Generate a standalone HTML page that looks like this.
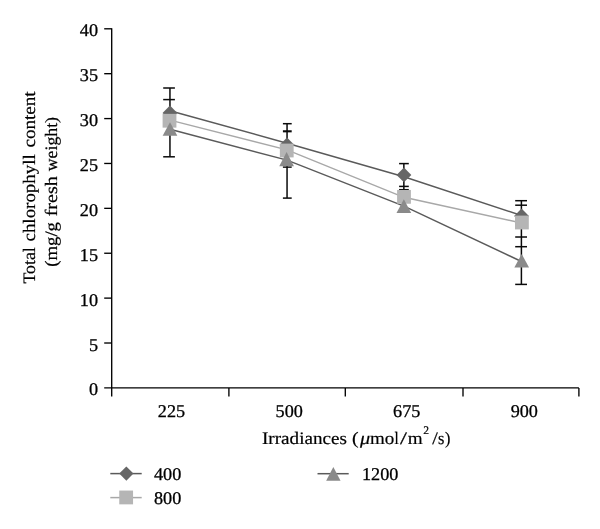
<!DOCTYPE html>
<html><head><meta charset="utf-8"><title>Chart</title>
<style>html,body{margin:0;padding:0;background:#fff}svg{display:block}text{text-rendering:geometricPrecision}</style></head>
<body>
<svg width="600" height="529" viewBox="0 0 600 529">
<rect width="600" height="529" fill="#fff"/>
<g stroke="#000" stroke-width="1.35" fill="none">
<path d="M111.7 28.150000000000002V396.59999999999997"/>
<path d="M104.2 387.9H578.9"/>
<path d="M104.2 343.01H111.7"/>
<path d="M104.2 298.12H111.7"/>
<path d="M104.2 253.24H111.7"/>
<path d="M104.2 208.35H111.7"/>
<path d="M104.2 163.46H111.7"/>
<path d="M104.2 118.58H111.7"/>
<path d="M104.2 73.69H111.7"/>
<path d="M104.2 28.80H111.7"/>
<path d="M228.90 387.9V396.59999999999997"/>
<path d="M345.30 387.9V396.59999999999997"/>
<path d="M463.00 387.9V396.59999999999997"/>
<path d="M578.90 387.9V396.59999999999997"/>
</g>
<g font-family="'Liberation Serif', serif" font-size="18.0" fill="#000" stroke="#000" stroke-width="0.3">
<text x="88.90" y="395.40" textLength="9.1" lengthAdjust="spacingAndGlyphs">0</text>
<text x="88.90" y="350.51" textLength="9.1" lengthAdjust="spacingAndGlyphs">5</text>
<text x="79.80" y="305.62" textLength="18.2" lengthAdjust="spacingAndGlyphs">10</text>
<text x="79.80" y="260.74" textLength="18.2" lengthAdjust="spacingAndGlyphs">15</text>
<text x="79.80" y="215.85" textLength="18.2" lengthAdjust="spacingAndGlyphs">20</text>
<text x="79.80" y="170.96" textLength="18.2" lengthAdjust="spacingAndGlyphs">25</text>
<text x="79.80" y="126.08" textLength="18.2" lengthAdjust="spacingAndGlyphs">30</text>
<text x="79.80" y="81.19" textLength="18.2" lengthAdjust="spacingAndGlyphs">35</text>
<text x="79.80" y="36.30" textLength="18.2" lengthAdjust="spacingAndGlyphs">40</text>
<text x="157.85" y="417.40" textLength="27.3" lengthAdjust="spacingAndGlyphs">225</text>
<text x="275.55" y="417.40" textLength="27.3" lengthAdjust="spacingAndGlyphs">500</text>
<text x="393.05" y="417.40" textLength="27.3" lengthAdjust="spacingAndGlyphs">675</text>
<text x="510.65" y="417.40" textLength="27.3" lengthAdjust="spacingAndGlyphs">900</text>
<text x="154.00" y="479.50" textLength="27.3" lengthAdjust="spacingAndGlyphs">400</text>
<text x="154.00" y="503.50" textLength="27.3" lengthAdjust="spacingAndGlyphs">800</text>
<text x="362.00" y="479.50" textLength="36.4" lengthAdjust="spacingAndGlyphs">1200</text>
</g>
<g font-family="'Liberation Serif', serif" font-size="17.5" fill="#000" stroke="#000" stroke-width="0.2">
<text y="444.1"><tspan x="262.0" textLength="84.9" lengthAdjust="spacingAndGlyphs">Irradiances</tspan> <tspan x="352.0" textLength="6.6" lengthAdjust="spacingAndGlyphs">(</tspan><tspan x="360.0" textLength="10.2" lengthAdjust="spacingAndGlyphs" font-style="italic">μ</tspan><tspan x="369.9" textLength="24.3" lengthAdjust="spacingAndGlyphs">mo</tspan><tspan x="394.5" textLength="4.2" lengthAdjust="spacingAndGlyphs">l</tspan><tspan x="400.1" textLength="7.0" lengthAdjust="spacingAndGlyphs">/</tspan><tspan x="407.7" textLength="14.9" lengthAdjust="spacingAndGlyphs">m</tspan><tspan x="423.2" textLength="5.8" lengthAdjust="spacingAndGlyphs" font-size="11.6" dy="-9.8">2</tspan><tspan x="432.3" textLength="5.6" lengthAdjust="spacingAndGlyphs" dy="9.8">/</tspan><tspan x="438.1" textLength="6.4" lengthAdjust="spacingAndGlyphs">s</tspan><tspan x="444.9" textLength="5.4" lengthAdjust="spacingAndGlyphs">)</tspan></text>
<text transform="translate(35.0 283.5) rotate(-90)"><tspan x="0.0" textLength="36.3" lengthAdjust="spacingAndGlyphs">Total</tspan> <tspan x="42.0" textLength="87.3" lengthAdjust="spacingAndGlyphs">chlorophyll</tspan> <tspan x="136.0" textLength="56.1" lengthAdjust="spacingAndGlyphs">content</tspan></text>
<text transform="translate(56.7 266.8) rotate(-90)"><tspan x="0.0" textLength="44.8" lengthAdjust="spacingAndGlyphs">(mg/g</tspan> <tspan x="50.5" textLength="40.0" lengthAdjust="spacingAndGlyphs">fresh</tspan> <tspan x="95.6" textLength="54.2" lengthAdjust="spacingAndGlyphs">weight)</tspan></text>
</g>
<polyline points="169.95,110.80 287.00,143.20 403.95,176.80 521.45,215.50" fill="none" stroke="#5a5a5a" stroke-width="1.45"/>
<polyline points="169.95,120.10 287.00,149.90 403.95,197.30 521.45,223.00" fill="none" stroke="#a8a8a8" stroke-width="1.45"/>
<polyline points="169.95,129.20 287.00,160.10 403.95,206.10 521.45,261.50" fill="none" stroke="#5a5a5a" stroke-width="1.45"/>
<g stroke="#0a0a0a" stroke-width="1.5" fill="none">
<path d="M169.95 88.0V156.8"/>
<path d="M163.2 88.0H174.9"/>
<path d="M163.2 99.6H174.9"/>
<path d="M163.2 156.8H174.9"/>
<path d="M287.05 123.7V198.1"/>
<path d="M282.9 123.7H291.7"/>
<path d="M282.9 131.3H291.7" stroke-width="2.1"/>
<path d="M282.9 167.1H291.7"/>
<path d="M282.9 198.1H291.7"/>
<path d="M403.85 163.6V189.7"/>
<path d="M399.1 163.6H408.8"/>
<path d="M399.1 186.4H408.8"/>
<path d="M399.1 189.7H408.8"/>
<path d="M521.4 200.7V284.4"/>
<path d="M515.2 200.7H527.0"/>
<path d="M515.2 205.2H527.0"/>
<path d="M515.2 237.0H527.0"/>
<path d="M515.2 246.7H527.0"/>
<path d="M515.2 284.4H527.0"/>
</g>
<path d="M169.95 105.60L177.35 113.00L169.95 120.40L162.55 113.00Z" fill="#666666"/>
<path d="M287.00 137.50L294.40 144.90L287.00 152.30L279.60 144.90Z" fill="#666666"/>
<path d="M403.95 167.50L411.35 174.90L403.95 182.30L396.55 174.90Z" fill="#666666"/>
<path d="M521.55 208.60L528.95 216.00L521.55 223.40L514.15 216.00Z" fill="#666666"/>
<rect x="162.60" y="113.85" width="13.8" height="13.8" fill="#b5b5b5"/>
<rect x="279.85" y="143.60" width="13.8" height="13.8" fill="#b5b5b5"/>
<rect x="397.10" y="189.95" width="13.8" height="13.8" fill="#b5b5b5"/>
<rect x="515.00" y="215.60" width="13.8" height="13.8" fill="#b5b5b5"/>
<path d="M170.00 122.30L177.35 135.85H162.65Z" fill="#8a8a8a"/>
<path d="M286.60 152.10L293.95 166.15H279.25Z" fill="#8a8a8a"/>
<path d="M403.85 199.30L411.20 213.05H396.50Z" fill="#8a8a8a"/>
<path d="M521.70 254.10L529.05 267.40H514.35Z" fill="#8a8a8a"/>
<path d="M110.3 473.6H141.7" stroke="#5a5a5a" stroke-width="1.5"/>
<path d="M126.35 466.45L133.45 473.55L126.35 480.65L119.25 473.55Z" fill="#666666"/>
<path d="M110.3 497.6H141.7" stroke="#a8a8a8" stroke-width="1.5"/>
<rect x="119.25" y="490.55" width="13.8" height="13.8" fill="#b5b5b5"/>
<path d="M317.5 473.7H348.7" stroke="#5a5a5a" stroke-width="1.5"/>
<path d="M333.35 466.90L340.55 480.80H326.15Z" fill="#8a8a8a"/>
</svg>
</body></html>
